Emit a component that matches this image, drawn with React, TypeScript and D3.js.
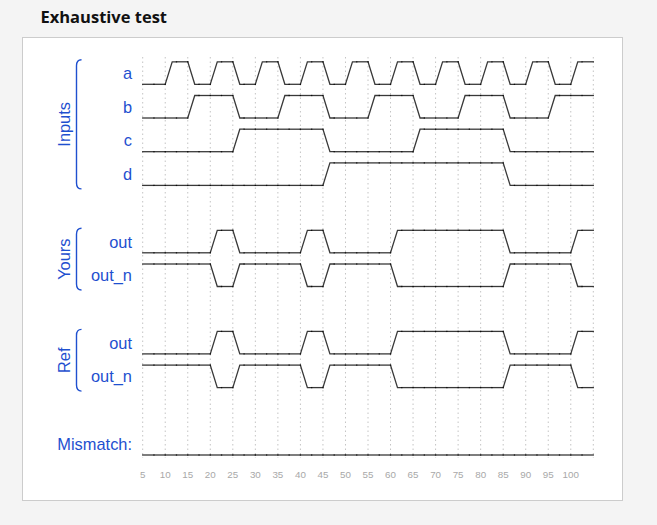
import * as d3 from 'd3';

// one test vector every 5 time units
const vectorTimes = [5, 10, 15, 20, 25, 30, 35, 40, 45, 50, 55, 60, 65, 70, 75, 80, 85, 90, 95, 100];
const tickLabels = ['5', '10', '15', '20', '25', '30', '35', '40', '45', '50', '55', '60', '65', '70', '75', '80', '85', '90', '95', '100'];

const sigA = [0, 1, 0, 1, 0, 1, 0, 1, 0, 1, 0, 1, 0, 1, 0, 1, 0, 1, 0, 1];
const sigB = [0, 0, 1, 1, 0, 0, 1, 1, 0, 0, 1, 1, 0, 0, 1, 1, 0, 0, 1, 1];
const sigC = [0, 0, 0, 0, 1, 1, 1, 1, 0, 0, 0, 0, 1, 1, 1, 1, 0, 0, 0, 0];
const sigD = [0, 0, 0, 0, 0, 0, 0, 0, 1, 1, 1, 1, 1, 1, 1, 1, 0, 0, 0, 0];
const yoursOut = [0, 0, 0, 1, 0, 0, 0, 1, 0, 0, 0, 1, 1, 1, 1, 1, 0, 0, 0, 1];
const yoursOutN = [1, 1, 1, 0, 1, 1, 1, 0, 1, 1, 1, 0, 0, 0, 0, 0, 1, 1, 1, 0];
const refOut = [0, 0, 0, 1, 0, 0, 0, 1, 0, 0, 0, 1, 1, 1, 1, 1, 0, 0, 0, 1];
const refOutN = [1, 1, 1, 0, 1, 1, 1, 0, 1, 1, 1, 0, 0, 0, 0, 0, 1, 1, 1, 0];
const mismatch = [0, 0, 0, 0, 0, 0, 0, 0, 0, 0, 0, 0, 0, 0, 0, 0, 0, 0, 0, 0];

const signals = [
  { name: 'a', row: 0, values: sigA },
  { name: 'b', row: 1, values: sigB },
  { name: 'c', row: 2, values: sigC },
  { name: 'd', row: 3, values: sigD },
  { name: 'out', row: 5, values: yoursOut },
  { name: 'out_n', row: 6, values: yoursOutN },
  { name: 'out', row: 8, values: refOut },
  { name: 'out_n', row: 9, values: refOutN },
  { name: 'Mismatch:', row: 11, values: mismatch },
];

const groups = [
  { name: 'Inputs', first: 0, last: 3 },
  { name: 'Yours', first: 5, last: 6 },
  { name: 'Ref', first: 8, last: 9 },
];

const W = 657;
const H = 525;
const STEP = 5;
const BLUE = '#1f50cf';
const AMP = 22.5;
const TRANS = 1.55;

export default function App() {
  const x = d3.scaleLinear().domain([5, 105]).range([142.7, 593.3]);
  // low level of each row
  const y = d3.scaleLinear().domain([0, 11]).range([84.3, 455]);
  const level = (row: number, v: number) => y(row) - v * AMP;
  const gridTimes = d3.range(5, 106, STEP);

  const segments: { key: string; d: string }[] = [];
  signals.forEach((s, si) => {
    s.values.forEach((v, i) => {
      const t0 = vectorTimes[i];
      const prev = i === 0 ? v : s.values[i - 1];
      const half = STEP / 2;
      const p1 = d3.path();
      p1.moveTo(x(t0), level(s.row, prev));
      if (prev !== v) p1.lineTo(x(t0 + TRANS), level(s.row, v));
      p1.lineTo(x(t0 + half), level(s.row, v));
      const p2 = d3.path();
      p2.moveTo(x(t0 + half), level(s.row, v));
      p2.lineTo(x(t0 + STEP), level(s.row, v));
      segments.push({ key: `${si}-${i}-a`, d: p1.toString() });
      segments.push({ key: `${si}-${i}-b`, d: p2.toString() });
    });
  });

  return (
    <svg width={W} height={H} style={{ position: 'absolute', left: 0, top: 0 }} fontFamily="'Liberation Sans', Arial, sans-serif">
      <rect width={W} height={H} fill="#f4f4f4" />
      <text x={40.5} y={23} fontFamily="'Open Sans', sans-serif" fontWeight={700} fontSize={16.5} fill="#111">
        Exhaustive test
      </text>
      <rect x={22.5} y={37.5} width={600} height={463} fill="#fff" stroke="#cccccc" />

      {gridTimes.map((t) => (
        <line key={t} x1={x(t)} x2={x(t)} y1={57} y2={458} stroke="#c4c4c4" strokeWidth={1} strokeDasharray="1.5 3" />
      ))}

      {tickLabels.map((l, i) => (
        <text key={l} x={x(vectorTimes[i])} y={478} textAnchor="middle" fontSize={9.8} fill="#a8a8a8">
          {l}
        </text>
      ))}

      {segments.map((s) => (
        <path key={s.key} d={s.d} fill="none" stroke="#000" strokeOpacity={0.78} strokeWidth={1.3} strokeLinecap="square" />
      ))}

      {signals.map((s, i) => (
        <text key={i} x={132} y={y(s.row) - AMP / 2 + 6} textAnchor="end" fontSize={16.4} fill={BLUE}>
          {s.name}
        </text>
      ))}

      {groups.map((g) => {
        const top = y(g.first) - AMP - 2;
        const bottom = y(g.last) + 3.5;
        const mid = (top + bottom) / 2;
        const bx = 76.5;
        return (
          <g key={g.name}>
            <path
              d={`M${bx + 5},${top} Q${bx},${top} ${bx},${top + 6} L${bx},${bottom - 6} Q${bx},${bottom} ${bx + 5},${bottom}`}
              fill="none"
              stroke={BLUE}
              strokeWidth={1.4}
            />
            <text transform={`translate(70,${mid}) rotate(-90)`} textAnchor="middle" fontSize={16.4} fill={BLUE}>
              {g.name}
            </text>
          </g>
        );
      })}
    </svg>
  );
}
